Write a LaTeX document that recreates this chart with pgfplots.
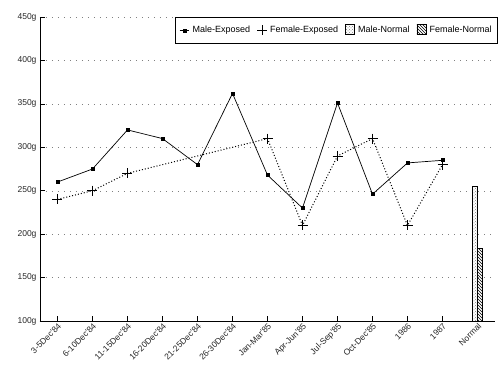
\documentclass[border=0pt]{standalone}
\usepackage{fontspec}
\setmainfont{Liberation Sans}
\usepackage{pgfplots}
\pgfplotsset{compat=1.18}
\usetikzlibrary{patterns}
\begin{document}
\begin{tikzpicture}
\begin{axis}[
 scale only axis, width=455pt, height=304pt,
 xmin=-0.5, xmax=12.5, ymin=100, ymax=450,
 axis x line*=bottom, axis y line*=left,
 axis line style={line width=0.9pt, -},
 xtick={0,...,12},
 xticklabels={3-5Dec\textquotesingle84,6-10Dec\textquotesingle84,11-15Dec\textquotesingle84,16-20Dec\textquotesingle84,21-25Dec\textquotesingle84,26-30Dec\textquotesingle84,Jan-Mar\textquotesingle85,Apr-Jun\textquotesingle85,Jul-Sep\textquotesingle85,Oct-Dec\textquotesingle85,1986,1987,Normal},
 x tick label style={rotate=45, anchor=north east, font=\fontsize{8.5}{10}\selectfont, inner sep=1pt, gray!30!black},
 ytick={100,150,...,450},
 yticklabel={\pgfmathprintnumber[assume math mode=true]{\tick}g},
 y tick label style={font=\fontsize{8.5}{10}\selectfont, gray!30!black},
 major tick length=5pt,
 tick style={black, line width=0.6pt},
 ymajorgrids, grid style={gray, dash pattern=on 1pt off 5pt},
 legend style={at={(1,1)}, xshift=3pt, anchor=north east, legend columns=-1, draw=black, line width=0.8pt,
   font=\fontsize{9}{11}\selectfont, inner ysep=7pt, inner xsep=4pt,
   /tikz/every odd column/.append style={column sep=1pt},
   /tikz/every even column/.append style={column sep=5pt}},
]
\addplot[black, line width=0.7pt, mark=square*, mark size=1.5pt,
  legend image code/.code={\draw[line width=0.7pt, mark repeat=2, mark phase=2] plot coordinates {(0cm,0cm)(0.17cm,0cm)(0.34cm,0cm)};}] coordinates {
 (0,260) (1,275) (2,320) (3,310) (4,280) (5,362) (6,268) (7,230) (8,351) (9,246) (10,282) (11,285)};
\addlegendentry{Male-Exposed}
\addplot[black, line width=1pt, dotted, mark=+, mark size=5pt, mark options={solid, line width=0.5pt},
  legend image code/.code={\draw[solid] plot coordinates {(0.18cm,0cm)};}] coordinates {
 (0,240) (1,250) (2,270) (6,310) (7,210) (8,290) (9,310) (10,210) (11,280)};
\addlegendentry{Female-Exposed}
\addplot[ybar, bar width=5pt, bar shift=-2.5pt, draw=black, line width=0.6pt, pattern=crosshatch dots, pattern color=gray,
  legend image code/.code={\draw (0cm,-0.13cm) rectangle (0.33cm,0.2cm);}] coordinates {(12,255)};
\addlegendentry{Male-Normal}
\addplot[ybar, bar width=5pt, bar shift=2.5pt, draw=black, line width=0.6pt, pattern=north west lines,
  legend image code/.code={\draw (0cm,-0.13cm) rectangle (0.33cm,0.2cm);}] coordinates {(12,184)};
\addlegendentry{Female-Normal}
\end{axis}
\path (current axis.south west) ++(-40pt,-52pt);
\path (current axis.north east) ++(4pt,17pt);
\end{tikzpicture}
\end{document}
